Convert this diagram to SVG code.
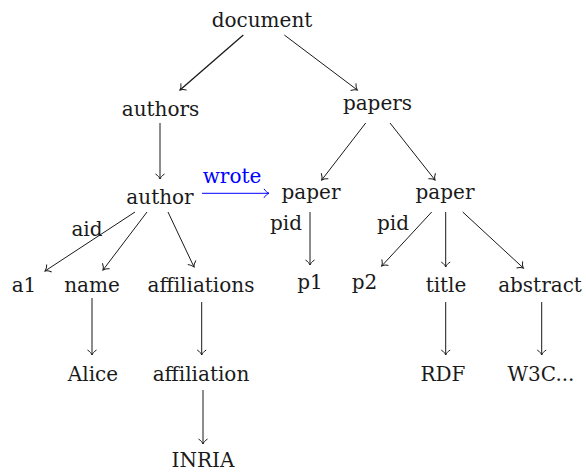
<svg xmlns="http://www.w3.org/2000/svg" width="586" height="472" viewBox="0 0 586 472">
<style>
text{font-family:"DejaVu Serif","Liberation Serif",serif;font-size:20px;fill:#1a1a1a;text-anchor:middle}
.blue{fill:#0000ff}
.e{stroke:#1a1a1a;stroke-width:1;fill:none;marker-end:url(#ah)}
.eb{stroke:#0000ff;stroke-width:1;fill:none;marker-end:url(#ahb)}
</style>
<defs>
<marker id="ah" markerUnits="userSpaceOnUse" markerWidth="12" markerHeight="12" viewBox="-6 -6 12 12" refX="0" refY="0" orient="auto" overflow="visible">
<path d="M-5,-4.5 C-3.5,-2 -1.5,-0.6 0,0 C-1.5,0.6 -3.5,2 -5,4.5" fill="none" stroke="#1a1a1a" stroke-width="1"/>
</marker>
<marker id="ahb" markerUnits="userSpaceOnUse" markerWidth="12" markerHeight="12" viewBox="-6 -6 12 12" refX="0" refY="0" orient="auto" overflow="visible">
<path d="M-5,-4.5 C-3.5,-2 -1.5,-0.6 0,0 C-1.5,0.6 -3.5,2 -5,4.5" fill="none" stroke="#0000ff" stroke-width="1"/>
</marker>
</defs>
<g id="connectors">
<line class="e" x1="243.3" y1="35" x2="180" y2="90" style="stroke-width:1.3"/>
<line class="e" x1="284.3" y1="35" x2="357.3" y2="90"/>
<line class="e" x1="160" y1="123" x2="160" y2="179"/>
<line class="e" x1="365.7" y1="123" x2="321.7" y2="180"/>
<line class="e" x1="390" y1="123" x2="435" y2="180"/>
<line class="e" x1="135" y1="212" x2="45" y2="271"/>
<line class="e" x1="147" y1="212" x2="103" y2="270"/>
<line class="e" x1="168" y1="212" x2="194" y2="267"/>
<line class="eb" x1="202" y1="193.3" x2="269" y2="193.3"/>
<line class="e" x1="310" y1="212" x2="310" y2="265"/>
<line class="e" x1="431.7" y1="212" x2="381.7" y2="266"/>
<line class="e" x1="445.7" y1="212" x2="445.7" y2="267"/>
<line class="e" x1="462.7" y1="212" x2="523.3" y2="268"/>
<line class="e" x1="92" y1="298" x2="92" y2="355"/>
<line class="e" x1="201.7" y1="302" x2="201.7" y2="355"/>
<line class="e" x1="203" y1="390" x2="203" y2="444"/>
<line class="e" x1="445.7" y1="302" x2="445.7" y2="355"/>
<line class="e" x1="541.7" y1="302" x2="541.7" y2="355"/>
<text class="blue" x="232" y="183">wrote</text>
<text x="87" y="236">aid</text>
<text x="286" y="230">pid</text>
<text x="393" y="230">pid</text>
</g>
<g id="n-document"><text x="262" y="27">document</text></g>
<g id="n-authors"><text x="160.5" y="116">authors</text></g>
<g id="n-papers"><text x="377.5" y="110">papers</text></g>
<g id="n-author"><text x="160" y="204">author</text></g>
<g id="n-paper1"><text x="311" y="199">paper</text></g>
<g id="n-paper2"><text x="445" y="199">paper</text></g>
<g id="n-a1"><text x="24" y="292">a1</text></g>
<g id="n-name"><text x="92" y="292">name</text></g>
<g id="n-affiliations"><text x="201" y="292">affiliations</text></g>
<g id="n-p1"><text x="310" y="289">p1</text></g>
<g id="n-p2"><text x="364.5" y="289">p2</text></g>
<g id="n-title"><text x="446" y="292">title</text></g>
<g id="n-abstract"><text x="540" y="292">abstract</text></g>
<g id="n-alice"><text x="93" y="381">Alice</text></g>
<g id="n-affiliation"><text x="201" y="381">affiliation</text></g>
<g id="n-rdf"><text x="443" y="381">RDF</text></g>
<g id="n-w3c"><text x="541" y="381">W3C...</text></g>
<g id="n-inria"><text x="203" y="467">INRIA</text></g>
</svg>
